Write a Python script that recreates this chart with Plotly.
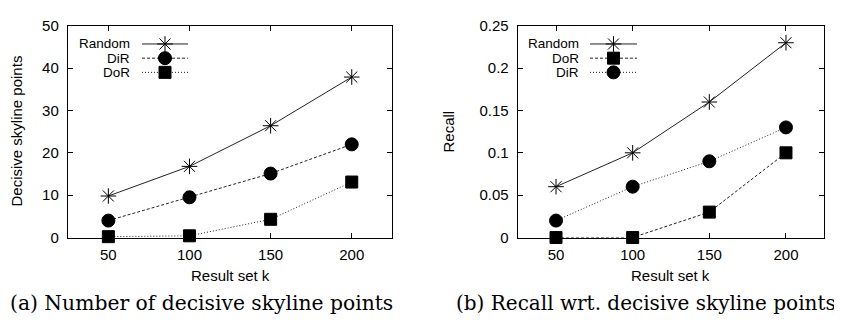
import plotly.graph_objects as go

# ---------------- data ----------------
k_values = [50, 100, 150, 200]

# (a) Number of decisive skyline points
left_random = [9.8, 16.8, 26.4, 37.9]
left_dir = [4.0, 9.5, 15.1, 22.0]
left_dor = [0.2, 0.4, 4.3, 13.1]

# (b) Recall wrt. decisive skyline points
right_random = [0.06, 0.10, 0.16, 0.23]
right_dor = [0.0, 0.0, 0.03, 0.10]
right_dir = [0.02, 0.06, 0.09, 0.13]

x_ticks = [50, 100, 150, 200]
left_y_ticks = [0, 10, 20, 30, 40, 50]
right_y_ticks = [0, 0.05, 0.1, 0.15, 0.2, 0.25]
right_y_labels = ["0", "0.05", "0.1", "0.15", "0.2", "0.25"]

# ---------------- styles / layout ----------------
PAGE_W, PAGE_H = 842, 325
OFF = 8  # default body margin of the html page
W, H = PAGE_W - OFF, PAGE_H - OFF
SANS = "Liberation Sans, Arial, Helvetica, sans-serif"
SERIF = "DejaVu Serif, Liberation Serif, serif"
LINE_COL = "#222222"
FS = 15


def px_x(p):
    return (p - OFF) / W


def px_y(p):
    return (PAGE_H - p) / H


style = {
    "Random": dict(symbol="asterisk-open", size=13, dash="solid"),
    "DiR_a": dict(symbol="circle", size=13, dash="3px,2px"),
    "DoR_a": dict(symbol="square", size=12, dash="1px,2px"),
    "DoR_b": dict(symbol="square", size=12, dash="3px,2px"),
    "DiR_b": dict(symbol="circle", size=13, dash="1px,2px"),
}


def trace(x, y, st, xa, ya):
    return go.Scatter(
        x=x, y=y, mode="lines+markers", xaxis=xa, yaxis=ya, showlegend=False,
        line=dict(color=LINE_COL, width=1, dash=st["dash"]),
        marker=dict(symbol=st["symbol"], size=st["size"], color="black",
                    line=dict(color="black", width=1)),
        cliponaxis=False,
    )


fig = go.Figure()
fig.add_trace(trace(k_values, left_random, style["Random"], "x", "y"))
fig.add_trace(trace(k_values, left_dir, style["DiR_a"], "x", "y"))
fig.add_trace(trace(k_values, left_dor, style["DoR_a"], "x", "y"))
fig.add_trace(trace(k_values, right_random, style["Random"], "x2", "y2"))
fig.add_trace(trace(k_values, right_dor, style["DoR_b"], "x2", "y2"))
fig.add_trace(trace(k_values, right_dir, style["DiR_b"], "x2", "y2"))

# ---------------- manual gnuplot-style legends (helper pixel axis) ----------------
legend_a = [("Random", style["Random"]), ("DiR", style["DiR_a"]), ("DoR", style["DoR_a"])]
legend_b = [("Random", style["Random"]), ("DoR", style["DoR_b"]), ("DiR", style["DiR_b"])]
legend_rows_y = [36.5, 51.5, 66.5]
annotations = []
for (entries, text_right, l0, l1) in [(legend_a, 131, 142, 188), (legend_b, 580, 590, 637)]:
    for (name, st), yy in zip(entries, legend_rows_y):
        fig.add_trace(go.Scatter(
            x=[l0, (l0 + l1) / 2, l1], y=[yy, yy, yy], mode="lines", xaxis="x3", yaxis="y3",
            showlegend=False, hoverinfo="skip",
            line=dict(color=LINE_COL, width=1, dash=st["dash"])))
        fig.add_trace(go.Scatter(
            x=[(l0 + l1) / 2], y=[yy], mode="markers", xaxis="x3", yaxis="y3",
            showlegend=False, hoverinfo="skip",
            marker=dict(symbol=st["symbol"], size=st["size"], color="black",
                        line=dict(color="black", width=1))))
        annotations.append(dict(x=px_x(text_right), y=px_y(yy), xref="paper", yref="paper",
                                text=name, showarrow=False, xanchor="right", yanchor="middle",
                                borderpad=0,
                                font=dict(family=SANS, size=13.5, color="black")))


def note(x, y, text, font, xanchor="center", angle=0):
    return dict(x=px_x(x), y=px_y(y), xref="paper", yref="paper", text=text, textangle=angle,
                showarrow=False, xanchor=xanchor, yanchor="middle", font=font)


sans_font = dict(family=SANS, size=FS, color="black")
annotations += [
    note(17, 129, "Decisive skyline points", sans_font, angle=-90),
    note(449, 129, "Recall", sans_font, angle=-90),
    note(230, 281, "Result set k", sans_font),
    note(670, 281, "Result set k", sans_font),
    note(8, 310, "(a) Number of decisive skyline points",
         dict(family=SERIF, size=20.3, color="black"), xanchor="left"),
    note(838, 310, "(b) Recall wrt. decisive skyline points",
         dict(family=SERIF, size=20, color="black"), xanchor="right"),
]

axis_common = dict(
    showline=True, linecolor="black", linewidth=1, mirror="allticks",
    ticks="inside", ticklen=5, tickwidth=1, tickcolor="black",
    showgrid=False, zeroline=False,
    tickfont=dict(family=SANS, size=FS, color="black"),
)

PLOT_TOP, PLOT_BOTTOM = 17.3, 241

fig.update_layout(
    width=W, height=H,
    margin=dict(l=0, r=0, t=0, b=0),
    paper_bgcolor="white", plot_bgcolor="rgba(0,0,0,0)",
    showlegend=False,
    xaxis=dict(domain=[px_x(67.8), px_x(392.3)], range=[25, 225], tickvals=x_ticks,
               anchor="y", ticklabelstandoff=3, **axis_common),
    yaxis=dict(domain=[px_y(PLOT_BOTTOM), px_y(PLOT_TOP)], range=[0, 50], tickvals=left_y_ticks,
               anchor="x", ticklabelstandoff=5, **axis_common),
    xaxis2=dict(domain=[px_x(517.7), px_x(824.3)], range=[25, 225], tickvals=x_ticks,
                anchor="y2", ticklabelstandoff=3, **axis_common),
    yaxis2=dict(domain=[px_y(PLOT_BOTTOM), px_y(PLOT_TOP)], range=[0, 0.25],
                tickvals=right_y_ticks, ticktext=right_y_labels, anchor="x2",
                ticklabelstandoff=5, **axis_common),
    xaxis3=dict(domain=[0, 1], range=[OFF, PAGE_W], visible=False, anchor="y3", fixedrange=True),
    yaxis3=dict(domain=[0, 1], range=[PAGE_H, OFF], visible=False, anchor="x3", fixedrange=True),
    annotations=annotations,
)

fig.write_html("out.html")
